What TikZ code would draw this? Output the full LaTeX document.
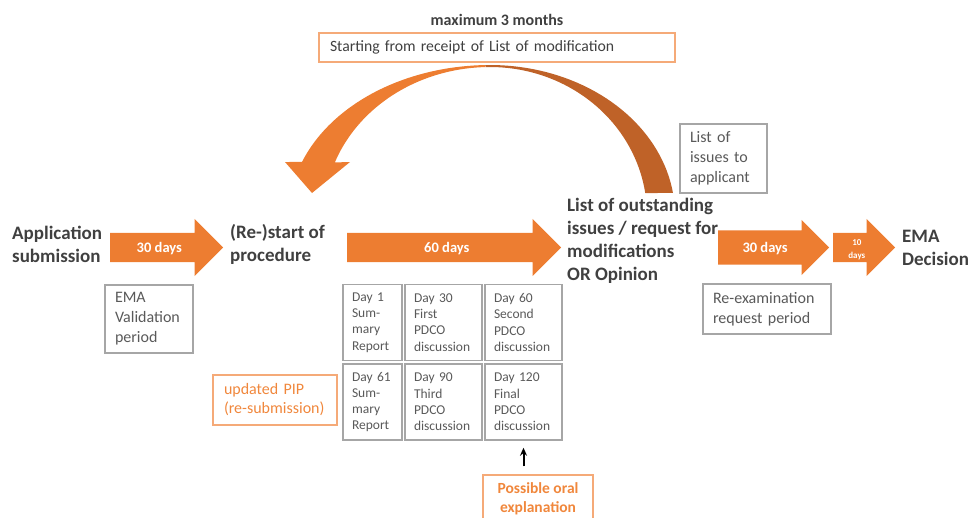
\documentclass[tikz,border=0pt]{standalone}
\usepackage{fontspec}
\setmainfont{Carlito}
\usetikzlibrary{shapes.arrows,arrows.meta}
\definecolor{arroworange}{RGB}{237,125,49}
\definecolor{arrowdark}{RGB}{191,98,40}
\definecolor{textgray}{RGB}{64,64,64}
\definecolor{boxtext}{RGB}{89,89,89}
\definecolor{boxgray}{RGB}{166,166,166}
\definecolor{noteorange}{RGB}{240,135,60}
\definecolor{noteborder}{RGB}{245,170,120}

\tikzset{
  stage/.style={font=\bfseries\fontsize{19}{23}\selectfont, text=textgray, align=left, anchor=west, inner sep=0pt},
  period/.style={single arrow, fill=arroworange, text=white, font=\bfseries\fontsize{14.5}{16}\selectfont,
    inner xsep=0pt, inner ysep=0pt, text height=19pt, text depth=10pt, single arrow head extend=14pt, anchor=tail},
  infobox/.style={draw=boxgray, line width=1.2pt, text=boxtext, font=\fontsize{16}{20}\selectfont,
    align=left, inner xsep=10pt, inner ysep=0pt},
  daybox/.style={draw=boxgray, line width=1.5pt, text=boxtext, font=\fontsize{13.5}{16.3}\selectfont,
    align=left, inner xsep=9pt, inner ysep=0pt, minimum height=76pt},
  notebox/.style={draw=noteborder, line width=1.2pt, text=noteorange, font=\fontsize{16}{19}\selectfont, inner ysep=0pt},
}

\begin{document}
\begin{tikzpicture}[x=1pt, y=-1pt]
  \clip (0,0) rectangle (968,517);
  % curved return arrow
  \fill[arrowdark] plot[domain=8.5:91.5, samples=40, variable=\t] ({490+185*cos(\t)},{215-150*sin(\t)})
    -- plot[domain=91.5:8.5, samples=40, variable=\t] ({490+157*cos(\t)},{215-148*sin(\t)}) -- cycle;
  \fill[arroworange] plot[domain=91.5:159.3, samples=40, variable=\t] ({490+201*cos(\t)},{215-150*sin(\t)})
    -- (285,162) -- (312,193) -- (350,162)
    -- plot[domain=159.2:91.5, samples=40, variable=\t] ({490+166*cos(\t)},{215-148*sin(\t)}) -- cycle;
  \node[font=\bfseries\fontsize{16}{19}\selectfont, text=textgray] (maxtime) at (497,20) {maximum 3 months};
  \node[notebox, text=textgray, font=\fontsize{15.7}{19}\selectfont, text width=334pt, inner xsep=11pt, minimum height=29pt, align=left] (receipt) at (497,47.5) {Starting from receipt of List of modification};

  % main line
  \node[stage] (app) at (12,244) {Application\\submission};
  \node[period, minimum height=113pt] (val) at (110,247.5) {30 days};
  \node[stage] (restart) at (230,244) {(Re-)start of\\procedure};
  \node[period, minimum height=214pt] (review) at (347,247.5) {60 days};
  \node[stage] (loi) at (567,241) {List of outstanding\\issues / request for\\modifications\\OR Opinion};
  \node[period, minimum height=111pt, text height=21.5pt, text depth=12.5pt, single arrow head extend=10.5pt] (reexam) at (718,247.5) {30 days};
  \node[period, minimum height=62pt, font=\bfseries\fontsize{9}{13}\selectfont] (final) at (833,247.5) {\begin{tabular}{@{}c@{}}10\\days\end{tabular}};
  \node[stage] (decision) at (902,247.5) {EMA\\Decision};

  % info boxes
  \node[infobox, text width=68pt, minimum height=68pt] (valbox) at (149,319) {EMA\\Validation\\period};
  \node[infobox, text width=67pt, minimum height=69pt] (issues) at (723.5,158.5) {List of\\issues to\\applicant};
  \node[infobox, text width=108pt, minimum height=50pt] (reexambox) at (767,309) {Re-examination\\request period};

  % day boxes
  \node[daybox, text width=41pt] (d1) at (372.5,322.5) {Day 1\\Sum-\\mary\\Report};
  \node[daybox, text width=59pt] (d30) at (443.5,322.5) {Day 30\\First\\PDCO\\discussion};
  \node[daybox, text width=59pt] (d60) at (523.5,322.5) {Day 60\\Second\\PDCO\\discussion};
  \node[daybox, text width=41pt] (d61) at (372.5,402) {Day 61\\Sum-\\mary\\Report};
  \node[daybox, text width=59pt] (d90) at (443.5,402) {Day 90\\Third\\PDCO\\discussion};
  \node[daybox, text width=59pt] (d120) at (523.5,402) {Day 120\\Final\\PDCO\\discussion};

  % orange notes
  \node[notebox, text width=102pt, inner xsep=11pt, minimum height=50pt, align=left] (pip) at (275,400) {updated PIP\\(re-submission)};
  \node[notebox, font=\bfseries\fontsize{15.5}{19}\selectfont, minimum width=110pt, minimum height=48pt, align=center] (oral) at (538,499) {Possible oral\\explanation};
  \draw[-{Stealth[length=8pt,width=7pt]}, line width=2pt, shorten <=8pt, shorten >=7pt] (oral.north -| d120.south) -- (d120.south);
\end{tikzpicture}
\end{document}
